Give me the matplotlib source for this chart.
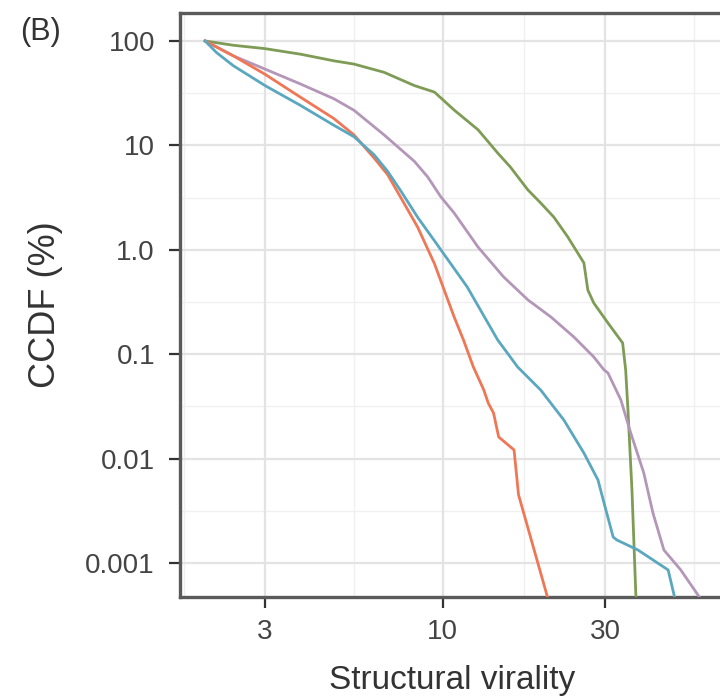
import matplotlib
matplotlib.use("Agg")
import matplotlib.pyplot as plt
import matplotlib.ticker as mticker

plt.rcParams['font.family'] = ['Liberation Sans', 'DejaVu Sans']

# CCDF curves of structural virality (x) vs. percent of cascades (y)
green_x = [2.0, 2.42, 3.0, 3.81, 4.78, 5.48, 6.72, 8.25, 9.45, 10.8, 12.7, 14.5, 15.8,
           17.8, 19.4, 21.2, 23.3, 26.0, 26.7, 27.8, 30.6, 33.8, 34.5, 35.0, 36.0, 37.0]
green_y = [100, 91, 84.5, 74.8, 64.6, 60.1, 50.1, 37.4, 32.4, 21.8, 14.1, 8.46, 6.21,
           3.74, 2.81, 2.06, 1.33, 0.748, 0.412, 0.309, 0.199, 0.128, 0.0706, 0.0312,
           0.005, 0.00045]

purple_x = [2.0, 2.42, 3.0, 3.81, 4.78, 5.48, 6.72, 8.25, 9.03, 9.87, 10.8, 12.7, 15.1,
            17.8, 20.8, 24.3, 27.8, 29.8, 30.6, 33.4, 35.7, 39.0, 41.5, 44.7, 50.1, 57.4]
purple_y = [100, 72.1, 53.8, 38.8, 28.0, 21.7, 12.6, 7.03, 4.98, 3.21, 2.25, 1.06, 0.549,
            0.331, 0.227, 0.146, 0.094, 0.0706, 0.0661, 0.0364, 0.0176, 0.00728,
            0.00301, 0.00133, 0.000857, 0.00045]

orange_x = [2.0, 2.42, 3.0, 3.81, 4.78, 5.48, 6.28, 6.88, 7.53, 8.44, 9.45, 10.8, 11.5,
            12.3, 13.2, 13.6, 14.1, 14.6, 16.2, 16.7, 20.4]
orange_y = [100, 72.1, 48.0, 29.0, 18.1, 12.6, 7.56, 5.25, 3.15, 1.64, 0.736, 0.227,
            0.137, 0.0754, 0.0454, 0.0341, 0.0273, 0.0161, 0.0121, 0.0045, 0.00045]

blue_x = [2.0, 2.16, 2.42, 3.0, 3.81, 4.78, 5.48, 6.28, 6.88, 7.53, 8.44, 9.45, 10.6,
          11.8, 14.5, 16.6, 19.4, 22.7, 26.0, 28.6, 29.8, 31.7, 32.5, 37.5, 46.0, 48.2]
blue_y = [100, 77.5, 58.0, 37.4, 24.2, 15.6, 12.1, 8.13, 5.65, 3.65, 2.04, 1.22, 0.72,
          0.440, 0.137, 0.0754, 0.0454, 0.0234, 0.0113, 0.00624, 0.00375, 0.00177,
          0.00166, 0.00133, 0.000857, 0.00045]

x_ticks = [3, 10, 30]
x_tick_labels = ["3", "10", "30"]
y_ticks = [0.001, 0.01, 0.1, 1.0, 10, 100]
y_tick_labels = ["0.001", "0.01", "0.1", "1.0", "10", "100"]

x_minor = [1.73, 5.48, 17.3, 54.8]
y_minor = [0.00316, 0.0316, 0.316, 3.16, 31.6]

W, H = 720, 698
fig = plt.figure(figsize=(W / 100, H / 100), dpi=100)
left, right, top, bottom = 180, 725, 13, 597
ax = fig.add_axes([left / W, 1 - bottom / H, (right - left) / W, (bottom - top) / H])

ax.set_xscale("log")
ax.set_yscale("log")
ax.set_xlim(1.687, 67.6)
ax.set_ylim(4.72e-4, 185.4)

# panel grid: faint minor lines, slightly stronger major lines
for v in x_minor:
    ax.axvline(v, color="#f0f0f0", lw=1.0, zorder=0)
for v in y_minor:
    ax.axhline(v, color="#f0f0f0", lw=1.0, zorder=0)
for v in x_ticks:
    ax.axvline(v, color="#e3e3e3", lw=1.6, zorder=0)
for v in y_ticks:
    ax.axhline(v, color="#e3e3e3", lw=1.6, zorder=0)

lw = 2.0
ax.plot(green_x, green_y, color="#7e9c55", lw=lw, zorder=3)
ax.plot(purple_x, purple_y, color="#b396b8", lw=lw, zorder=3)
ax.plot(orange_x, orange_y, color="#ef7756", lw=lw, zorder=3)
ax.plot(blue_x, blue_y, color="#5aa7bf", lw=lw, zorder=3)

ax.set_xticks(x_ticks, x_tick_labels)
ax.set_yticks(y_ticks, y_tick_labels)
ax.xaxis.set_minor_locator(mticker.NullLocator())
ax.yaxis.set_minor_locator(mticker.NullLocator())
ax.tick_params(axis="both", direction="out", length=8, width=1.6, color="#333333",
               labelsize=20, labelcolor="#444444")
ax.tick_params(axis="y", pad=10)
ax.tick_params(axis="x", pad=8)

for s in ax.spines.values():
    s.set_color("#5a5a5a")
    s.set_linewidth(2.4)

ax.set_xlabel("Structural virality", fontsize=24, color="#333333", labelpad=14)
ax.set_ylabel("CCDF (%)", fontsize=26, color="#333333", labelpad=16)

fig.text(20 / W, 1 - 40 / H, "(B)", fontsize=22, color="#333333", va="baseline", ha="left")

fig.savefig("out.png", dpi=100)
